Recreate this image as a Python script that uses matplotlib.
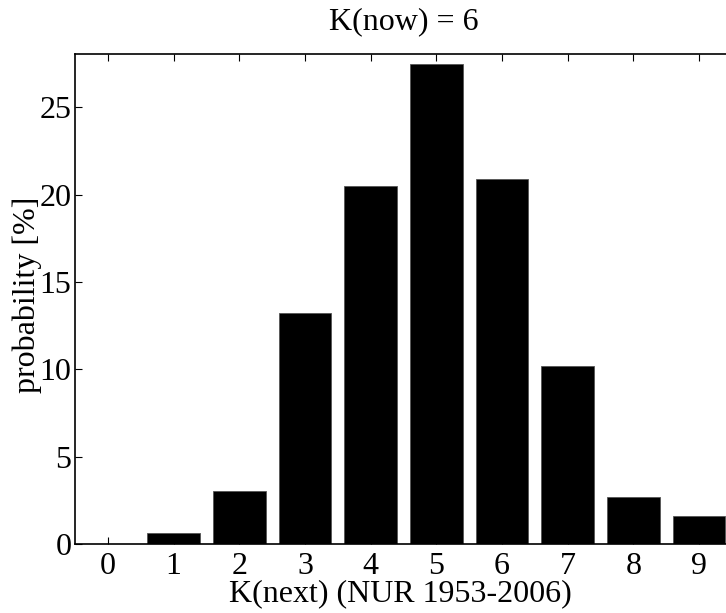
import matplotlib
matplotlib.use("Agg")
import matplotlib.pyplot as plt

categories = [0, 1, 2, 3, 4, 5, 6, 7, 8, 9]
probability = [0.0, 0.63, 3.05, 13.23, 20.5, 27.49, 20.9, 10.16, 2.7, 1.6]
tick_labels = ["0", "1", "2", "3", "4", "5", "6", "7", "8", "9"]
yticks = [0, 5, 10, 15, 20, 25]

plt.rcParams['font.family'] = ['Liberation Serif', 'DejaVu Serif']

fig = plt.figure(figsize=(7.26, 6.13), dpi=100)
ax = fig.add_axes([0.1033, 0.1126, 0.905, 0.7985])

ax.bar(categories, probability, width=0.8, color='black', edgecolor='#555555', linewidth=0.6)

ax.set_xlim(-0.5, 9.5)
ax.set_ylim(0, 28.02)
ax.set_xticks(categories)
ax.set_xticklabels(tick_labels)
ax.set_yticks(yticks)

for s in ['left', 'top', 'bottom', 'right']:
    ax.spines[s].set_linewidth(1.2)

ax.tick_params(axis='both', direction='in', length=5, width=0.8, labelsize=23,
               top=True, right=False)
ax.tick_params(axis='x', pad=6)
ax.tick_params(axis='y', pad=2.5)

fig.text(0.556, 0.964, "K(now) = 6", fontsize=23, ha='center', va='center')
ax.set_xlabel("K(next) (NUR 1953-2006)", fontsize=23, va='top')
ax.set_ylabel("probability [%]", fontsize=23)
ax.xaxis.set_label_coords(0.495, -0.071)
ax.yaxis.set_label_coords(-0.05, 0.51)

fig.savefig("out.png", dpi=100)
